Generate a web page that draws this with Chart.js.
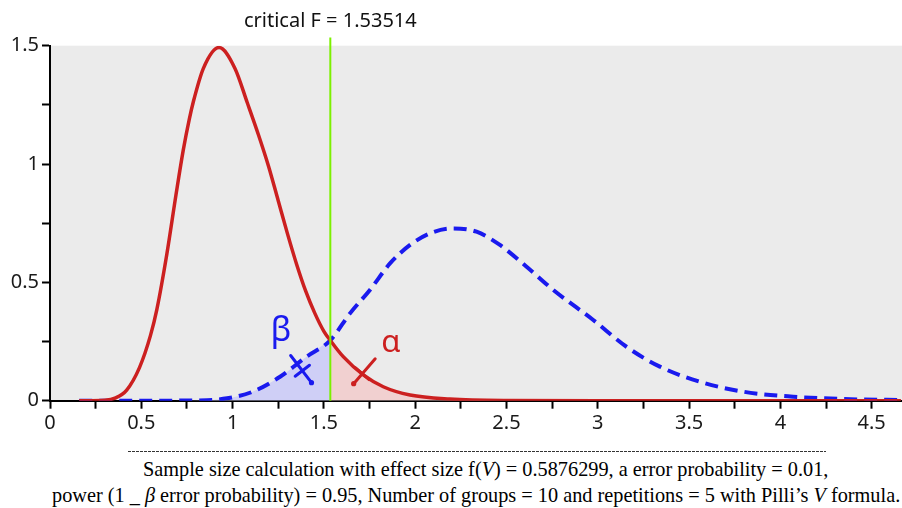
<!DOCTYPE html>
<html><head><meta charset="utf-8">
<script src="https://cdn.jsdelivr.net/npm/chart.js@4.4.1/dist/chart.umd.min.js"></script>
<style>
html,body{margin:0;padding:0;background:#fff;}
#wrap{position:relative;width:902px;height:508px;overflow:hidden;}
canvas{position:absolute;left:0;top:0;}
.rule{position:absolute;left:128px;top:451px;width:698px;height:1px;background:repeating-linear-gradient(to right,#333 0 3px,transparent 3px 4px);}
.cap{position:absolute;white-space:nowrap;font-family:"Liberation Serif","Times New Roman",serif;font-size:20.3px;color:#000;line-height:24px;}
</style></head>
<body><div id="wrap"><canvas id="c" width="902" height="440"></canvas>
<div class="rule"></div>
<div class="cap" style="top:457px;left:143px">Sample size calculation with effect size f(<i>V</i>) = 0.5876299, a error probability = 0.01,</div>
<div class="cap" style="top:483px;left:52px">power (1 _ <i>β</i> error probability) = 0.95, Number of groups = 10 and repetitions = 5 with Pilli’s <i>V</i> formula.</div>
</div>
<script>
// ---- data ----
const critF = 1.53514;
const redX = [0.16, 0.30, 0.36, 0.42, 0.49, 0.55, 0.585, 0.64, 0.69, 0.73, 0.763, 0.785, 0.84, 0.926, 1.013, 1.08, 1.141, 1.196, 1.25, 1.30, 1.35, 1.40, 1.45, 1.50, 1.535, 1.606, 1.716, 1.825, 1.972, 2.19, 2.50, 3.00, 4.66];
const redY = [0, 0.002, 0.012, 0.045, 0.14, 0.275, 0.385, 0.62, 0.87, 1.06, 1.19, 1.263, 1.404, 1.492, 1.404, 1.26, 1.125, 0.993, 0.845, 0.707, 0.578, 0.464, 0.37, 0.293, 0.255, 0.186, 0.109, 0.059, 0.024, 0.007, 0.001, 0, 0];
const blueX = [0.16, 0.50, 0.86, 0.97, 1.11, 1.26, 1.405, 1.535, 1.643, 1.752, 1.862, 1.972, 2.081, 2.209, 2.336, 2.464, 2.61, 2.756, 2.975, 3.157, 3.34, 3.56, 3.797, 4.07, 4.345, 4.66];
const blueY = [0, 0, 0.002, 0.01, 0.038, 0.101, 0.186, 0.255, 0.369, 0.468, 0.58, 0.658, 0.707, 0.728, 0.714, 0.658, 0.566, 0.468, 0.341, 0.228, 0.144, 0.08, 0.038, 0.017, 0.007, 0.003];
const greenTop = 1.535;
const betaLabel = 'β';
const alphaLabel = 'α';
const titleText = 'critical F = ' + critF;

// ---- derived ----
const pts = (xs, ys) => xs.map((x, i) => ({x: x, y: ys[i]}));
const redPts = pts(redX, redY);
const bluePts = pts(blueX, blueY);
const blueFill = bluePts.filter(p => p.x <= critF + 0.001);
const redFill = redPts.filter(p => p.x >= critF - 0.001);

const RED = '#cc2020', BLUE = '#1a1aee';
const notes = [
  {text: betaLabel, color: BLUE, size: 34, tx: 1.265, ty: 0.292, from: [1.318, 0.191], to: [1.432, 0.076], t: 0.56},
  {text: alphaLabel, color: RED, size: 31, tx: 1.867, ty: 0.244, from: [1.781, 0.177], to: [1.663, 0.072], t: 0.6}
];

const isMult = (v, s) => Math.abs(v / s - Math.round(v / s)) < 1e-6;

const overlay = {
  id: 'overlay',
  beforeDraw(chart) {
    const {ctx, chartArea: a} = chart;
    ctx.save();
    ctx.fillStyle = '#ebebeb';
    ctx.fillRect(a.left, a.top, a.right - a.left, a.bottom - a.top);
    ctx.restore();
  },
  afterDraw(chart) {
    const {ctx} = chart;
    const xs = chart.scales.x, ys = chart.scales.y;
    ctx.save();
    ctx.font = '20px "Noto Sans"';
    ctx.fillStyle = '#111';
    ctx.textAlign = 'center';
    ctx.textBaseline = 'alphabetic';
    ctx.fillText(titleText, xs.getPixelForValue(critF), 27);
    notes.forEach(n => {
      const x1 = xs.getPixelForValue(n.from[0]), y1 = ys.getPixelForValue(n.from[1]);
      const x2 = xs.getPixelForValue(n.to[0]), y2 = ys.getPixelForValue(n.to[1]);
      ctx.strokeStyle = n.color; ctx.fillStyle = n.color;
      ctx.lineWidth = 3; ctx.lineCap = 'round';
      ctx.beginPath(); ctx.moveTo(x1, y1); ctx.lineTo(x2, y2); ctx.stroke();
      const dx = x2 - x1, dy = y2 - y1, L = Math.hypot(dx, dy);
      const ux = dx / L, uy = dy / L;
      const cx = x1 + dx * n.t, cy = y1 + dy * n.t;
      ctx.beginPath(); ctx.moveTo(cx - uy * 9, cy + ux * 9); ctx.lineTo(cx + uy * 9, cy - ux * 9); ctx.stroke();
      ctx.beginPath(); ctx.arc(x2, y2, 2.6, 0, Math.PI * 2); ctx.fill();
      ctx.font = n.size + 'px "Noto Sans"';
      ctx.textAlign = 'center'; ctx.textBaseline = 'middle';
      ctx.fillText(n.text, xs.getPixelForValue(n.tx), ys.getPixelForValue(n.ty));
    });
    ctx.restore();
  }
};

const tickFont = {family: '"Noto Sans"', size: 20};
const axisCommon = {
  border: {display: true, color: '#000', width: 2},
  grid: {drawOnChartArea: false, drawTicks: true, tickLength: 8, tickColor: '#000', tickWidth: 2},
};

new Chart(document.getElementById('c'), {
  type: 'line',
  data: {
    datasets: [
      {data: [{x: critF, y: 0}, {x: critF, y: greenTop}], borderColor: '#7cf000', borderWidth: 2, pointRadius: 0, fill: false, clip: false, order: 0},
      {data: redPts, borderColor: RED, borderWidth: 3.5, pointRadius: 0, fill: false, cubicInterpolationMode: 'monotone', order: 1},
      {data: bluePts, borderColor: BLUE, borderWidth: 4, borderDash: [13, 7], pointRadius: 0, fill: false, cubicInterpolationMode: 'monotone', order: 2},
      {data: blueFill, borderWidth: 0, borderColor: 'rgba(0,0,0,0)', backgroundColor: '#cfcff6', pointRadius: 0, fill: 'origin', cubicInterpolationMode: 'monotone', order: 3},
      {data: redFill, borderWidth: 0, borderColor: 'rgba(0,0,0,0)', backgroundColor: '#f1d0d0', pointRadius: 0, fill: 'origin', cubicInterpolationMode: 'monotone', order: 4}
    ]
  },
  options: {
    responsive: false,
    animation: false,
    layout: {padding: {top: 45.7, left: 0, right: 0, bottom: 0}},
    plugins: {legend: {display: false}, tooltip: {enabled: false}, title: {display: false}},
    scales: {
      x: Object.assign({}, axisCommon, {
        type: 'linear', min: 0, max: 4.666,
        ticks: {stepSize: 0.25, includeBounds: false, autoSkip: false, maxRotation: 0, padding: 3, color: '#1a1a1a', font: tickFont,
          callback: v => isMult(v, 0.5) ? String(+v.toFixed(2)) : ''},
        afterBuildTicks: s => { s.ticks = s.ticks.filter(t => isMult(t.value, 0.25)); },
        afterFit: s => { s.height = 39.3; }
      }),
      y: Object.assign({}, axisCommon, {
        type: 'linear', min: 0, max: 1.5,
        ticks: {stepSize: 0.25, includeBounds: false, autoSkip: false, padding: 3, color: '#1a1a1a', font: tickFont,
          callback: v => isMult(v, 0.5) ? String(+v.toFixed(2)) : ''},
        afterBuildTicks: s => { s.ticks = s.ticks.filter(t => isMult(t.value, 0.25)); },
        afterFit: s => { s.width = 50; }
      })
    }
  },
  plugins: [overlay]
});
</script>
</body></html>
